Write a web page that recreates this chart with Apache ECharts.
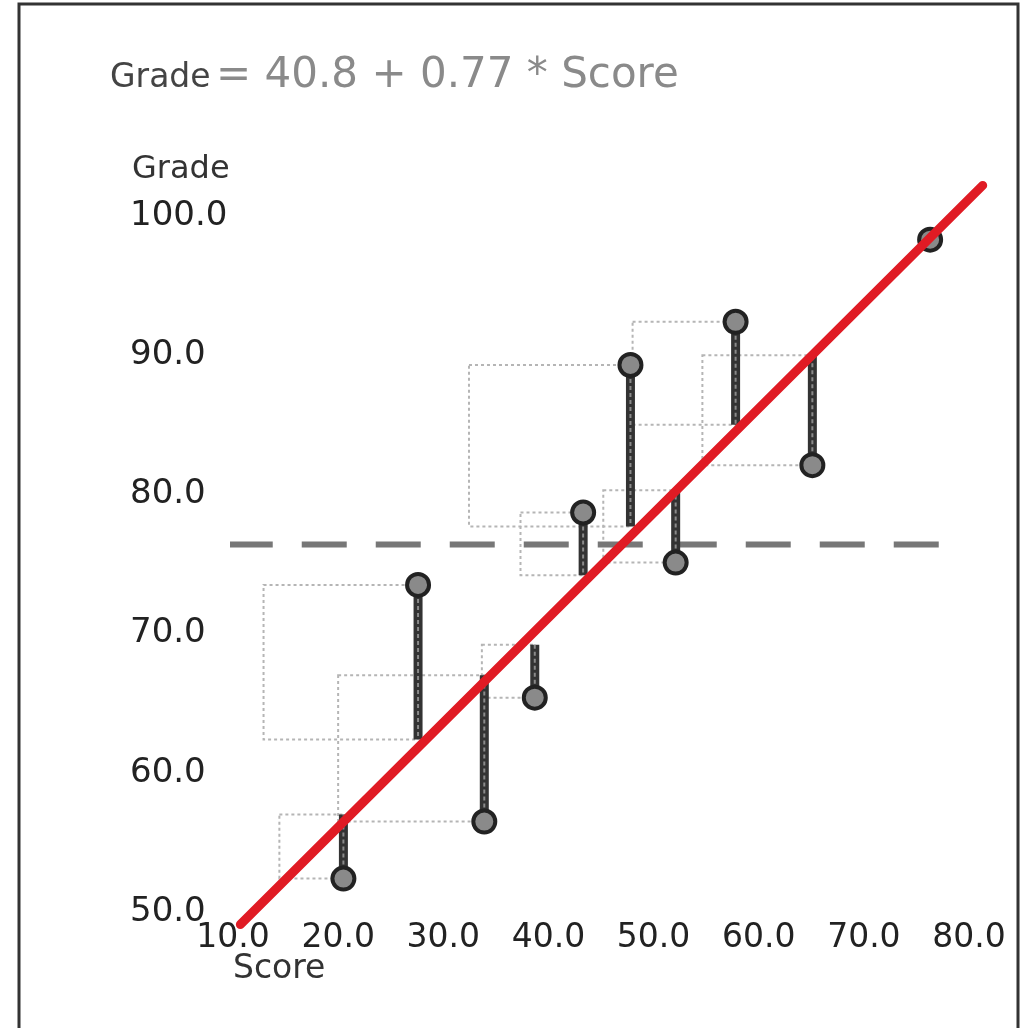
<!DOCTYPE html>
<html>
<head>
<meta charset="utf-8">
<script src="https://cdn.jsdelivr.net/npm/echarts@6/dist/echarts.min.js"></script>
<style>
html,body{margin:0;padding:0;background:#fff;}
#chart{width:1030px;height:1028px;}
</style>
</head>
<body>
<div id="chart"></div>
<script>
// ---- data ----
const scores   = [20.5, 27.6, 33.9, 38.7, 43.3, 47.8, 52.1, 57.8, 65.1, 76.3];
const grades   = [52.4, 73.5, 56.5, 65.4, 78.7, 89.3, 75.1, 92.4, 82.1, 98.3];
const fitted   = [57.0, 62.4, 67.0, 69.2, 74.2, 77.7, 80.3, 85.0, 90.0, 98.3];
const fitLine  = [[10.7, 49.1], [81.3, 102.2]];
const meanLine = [[9.5, 76.4], [77.7, 76.4]];
const xTicks   = [10, 20, 30, 40, 50, 60, 70, 80];
const yTicks   = [50, 60, 70, 80, 90, 100];
const formulaText = '= 40.8 + 0.77 * Score';

const chart = echarts.init(document.getElementById('chart'), null, {renderer:'canvas'});

const pointData = scores.map((s, i) => [s, grades[i], fitted[i]]);

const residualSeries = [];
scores.forEach((s, i) => {
  residualSeries.push({
    type: 'line', silent: true, symbol: 'none', z: 3,
    data: [[s, grades[i]], [s, fitted[i]]],
    lineStyle: {color: '#333', width: 9}
  });
  residualSeries.push({
    type: 'line', silent: true, symbol: 'none', z: 4,
    data: [[s, grades[i]], [s, fitted[i]]],
    lineStyle: {color: '#8a8a8a', width: 2, type: [4, 3]}
  });
});

const option = {
  backgroundColor: '#ffffff',
  animation: false,
  grid: {left: 233, right: 8.4, top: 146.4, bottom: 116},
  xAxis: {
    type: 'value', min: 10, max: 85, interval: 10,
    axisLine: {show: false}, axisTick: {show: false}, splitLine: {show: false},
    axisLabel: {
      margin: 10, fontFamily: 'DejaVu Sans', fontSize: 33, color: '#222',
      verticalAlign: 'top',
      formatter: v => xTicks.includes(v) ? v.toFixed(1) : ''
    }
  },
  yAxis: {
    type: 'value', min: 50, max: 105, interval: 10,
    axisLine: {show: false}, axisTick: {show: false}, splitLine: {show: false},
    axisLabel: {
      margin: 103, align: 'left', fontFamily: 'DejaVu Sans', fontSize: 34, color: '#222',
      formatter: v => yTicks.includes(v) ? v.toFixed(1) : ''
    }
  },
  graphic: [
    {type: 'rect', shape: {x: 19, y: 4, width: 999, height: 1040},
     style: {fill: null, stroke: '#333', lineWidth: 3}, z: 100},
    {type: 'text', left: 110, top: 62, z: 100,
     style: {text: 'Grade', fontFamily: 'DejaVu Sans', fontSize: 33, fill: '#444'}},
    {type: 'text', left: 216, top: 55, z: 100,
     style: {text: formulaText, fontFamily: 'DejaVu Sans', fontSize: 42, fill: '#8a8a8a'}},
    {type: 'text', left: 132, top: 154, z: 100,
     style: {text: 'Grade', fontFamily: 'DejaVu Sans', fontSize: 32, fill: '#333'}},
    {type: 'text', left: 233, top: 953, z: 100,
     style: {text: 'Score', fontFamily: 'DejaVu Sans', fontSize: 33, fill: '#333'}}
  ],
  series: [
    {
      type: 'custom', silent: true, z: 1,
      data: pointData,
      renderItem: (params, api) => {
        const p1 = api.coord([api.value(0), api.value(1)]);
        const p2 = api.coord([api.value(0), api.value(2)]);
        const h = Math.abs(p1[1] - p2[1]);
        if (h < 4) return null;
        return {
          type: 'rect',
          shape: {x: p1[0] - h, y: Math.min(p1[1], p2[1]), width: h, height: h},
          style: {fill: null, stroke: '#b5b5b5', lineWidth: 2, lineDash: [3, 3]}
        };
      }
    },
    {
      type: 'line', silent: true, symbol: 'none', z: 2,
      data: meanLine,
      lineStyle: {color: '#777', width: 6, type: [45, 29]}
    },
    ...residualSeries,
    {
      type: 'scatter', silent: true, z: 6,
      data: scores.map((s, i) => [s, grades[i]]),
      symbol: 'circle', symbolSize: 22,
      itemStyle: {color: '#8a8a8a', borderColor: '#222', borderWidth: 4, opacity: 1}
    },
    {
      type: 'line', silent: true, symbol: 'none', z: 10, clip: false,
      data: fitLine,
      lineStyle: {color: '#e01b24', width: 9, cap: 'round'}
    }
  ]
};
chart.setOption(option);
</script>
</body>
</html>
